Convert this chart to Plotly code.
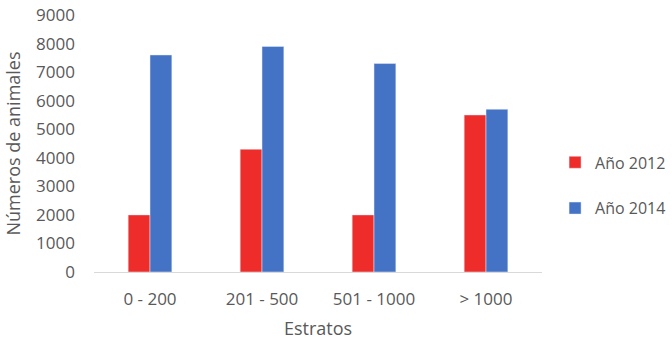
import plotly.graph_objects as go

estratos = ["0 - 200", "201 - 500", "501 - 1000", "> 1000"]
anio_2012 = [2000, 4300, 2000, 5500]
anio_2014 = [7600, 7900, 7300, 5700]
y_ticks = [0, 1000, 2000, 3000, 4000, 5000, 6000, 7000, 8000, 9000]

font_family = "Open Sans, Liberation Sans, sans-serif"
gray = "#595959"

fig = go.Figure()
fig.add_trace(go.Bar(name="Año 2012", x=estratos, y=anio_2012,
                     marker_color="#EE2D2A", legendgroup="a"))
fig.add_trace(go.Bar(name="Año 2014", x=estratos, y=anio_2014,
                     marker_color="#4472C4", legendgroup="b"))

fig.update_layout(
    width=672, height=342,
    margin=dict(l=94, r=130, t=15, b=70, autoexpand=False),
    paper_bgcolor="white", plot_bgcolor="white",
    barmode="group", bargap=0.61, bargroupgap=0,
    font=dict(family=font_family, color=gray, size=17),
    showlegend=True,
    legend=dict(xref="container", yref="container", x=0.826, y=0.458,
                xanchor="left", yanchor="middle",
                font=dict(size=16, color=gray), tracegroupgap=22,
                traceorder="grouped", itemwidth=30),
    xaxis=dict(showgrid=False, showline=True, linecolor="#D9D9D9", linewidth=1,
               ticks="", ticklabelstandoff=12, tickfont=dict(size=17),
               title=dict(text="Estratos", font=dict(size=18, color=gray), standoff=12)),
    yaxis=dict(range=[0, 9000], tickvals=y_ticks, showgrid=False, showline=False,
               zeroline=False, ticks="", ticklabelstandoff=18, tickfont=dict(size=17),
               title=dict(text="Números de animales", font=dict(size=18, color=gray), standoff=10)),
)

fig.write_html("out.html")
